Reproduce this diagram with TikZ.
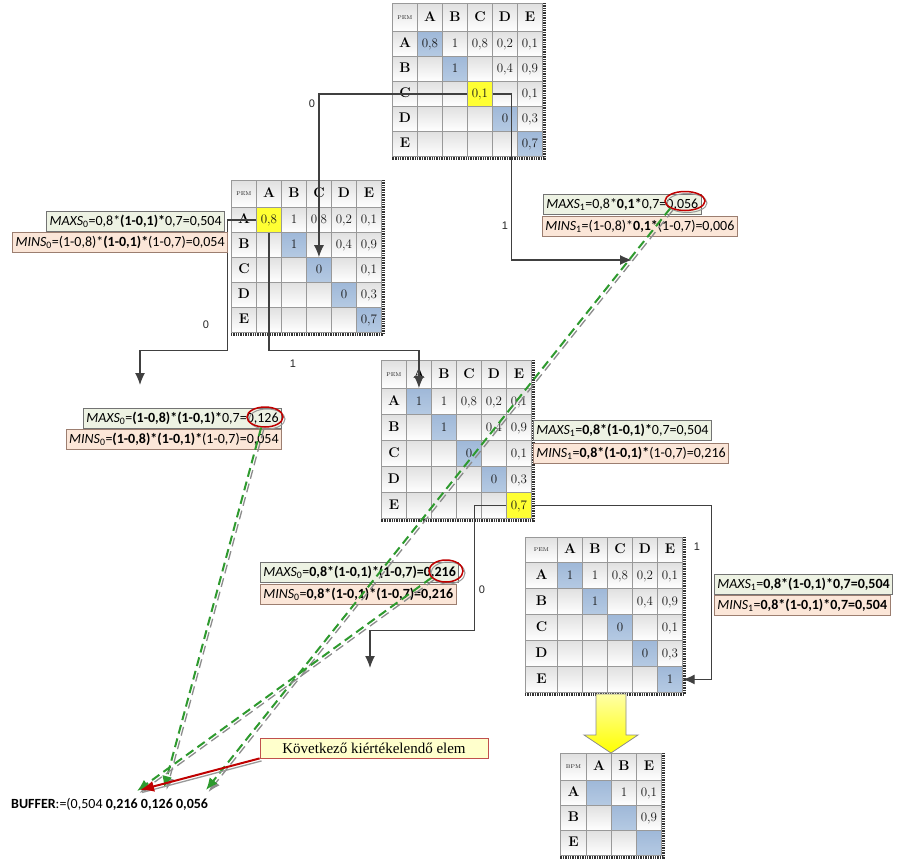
\documentclass[tikz,border=0pt]{standalone}
\usepackage{fontspec}
\newfontfamily\lblfont{Carlito}
\newfontfamily\edgefont{Liberation Sans}
\newfontfamily\notefont{Liberation Serif}
\usetikzlibrary{matrix,arrows.meta,shapes.geometric}

\definecolor{diagblue}{HTML}{B5CAE3}
\definecolor{diagbluetop}{HTML}{9FB8D8}
\definecolor{hiyellow}{HTML}{FFFF33}
\definecolor{maxfill}{HTML}{EDF2E3}
\definecolor{minfill}{HTML}{FBE6D8}
\definecolor{minedge}{HTML}{9C7E70}
\definecolor{connc}{HTML}{404040}
\definecolor{dashgreen}{HTML}{2E9A2E}
\definecolor{ringred}{HTML}{C00000}
\definecolor{notefill}{HTML}{FFFFCC}
\definecolor{noteedge}{HTML}{C0504D}

\newcommand\lblmax[1]{\textit{MAXS}\textsubscript{#1}}
\newcommand\lblmin[1]{\textit{MINS}\textsubscript{#1}}

\tikzset{
  cell/.style={draw=black!40, line width=0.5pt, inner sep=0pt, anchor=center,
    minimum width=25pt, minimum height=25pt, text height=8.5pt, text depth=1pt,
    top color=black!12, middle color=white, bottom color=white,
    font=\fontsize{13}{13}\selectfont, text=black!90},
  dg/.style={top color=diagbluetop, middle color=diagblue, bottom color=diagblue},
  hl/.style={top color=hiyellow, middle color=hiyellow, bottom color=hiyellow},
  hd/.style={font=\bfseries\fontsize{14}{14}\selectfont, text=black},
  pm/.style={font=\fontsize{5.5}{5.5}\selectfont, text height=4pt, text depth=0pt},
  pem/.style={matrix of nodes, nodes in empty cells, row sep=-0.5pt,
    column sep=-0.5pt, nodes={cell}, anchor=north west, inner sep=0pt},
  mshadow/.style={line width=2.6pt, draw=black!80, dash pattern=on 1pt off 0.7pt},
  conn/.style={draw=connc, line width=1.3pt, -{Latex[length=12pt,width=10pt]}},
  edgelbl/.style={font=\edgefont\fontsize{11}{11}\selectfont, text=black!85, inner sep=1pt},
  maxbox/.style={draw=black!55, line width=0.7pt, fill=maxfill,
    font=\lblfont\fontsize{14}{15}\selectfont, inner xsep=3pt, inner ysep=0pt,
    minimum height=20pt},
  minbox/.style={maxbox, draw=minedge, fill=minfill},
  ring/.style={ellipse, draw=ringred, line width=1.5pt, inner sep=0pt},
  ringshadow/.style={ellipse, draw=black!40, line width=1pt, inner sep=0pt},
  gshadow/.style={draw=black!45, line width=1.3pt, dash pattern=on 9pt off 5pt,
    -{Latex[length=12pt,width=9pt]}},
  gdash/.style={draw=dashgreen, line width=2pt, dash pattern=on 9pt off 5pt,
    -{Latex[length=12pt,width=10pt]}},
  redarrow/.style={draw=ringred, line width=2pt, -{Latex[length=14pt,width=11pt]}},
  redshadow/.style={draw=black!40, line width=1.3pt},
  notebox/.style={fill=notefill, draw=noteedge, line width=0.8pt,
    minimum width=228pt, minimum height=20pt, inner sep=0pt,
    font=\notefont\fontsize{15}{15}\selectfont},
  yarrow/.style={draw=black!45, line width=0.8pt, top color=yellow!35, bottom color=yellow}
}

\begin{document}
\begin{tikzpicture}[x=1pt,y=-1pt]
\fill[white] (0,0) rectangle (903,862);
\useasboundingbox (0,0) rectangle (903,862);

% ---- top table: C is chosen
\matrix[pem, row 1/.style={nodes={minimum height=28pt}}] (top) at (392,3) {
|[pm]|PEM & |[hd]|A & |[hd]|B & |[hd]|C & |[hd]|D & |[hd]|E \\
|[hd]|A & |[dg]|0,8 & 1 & 0,8 & 0,2 & 0,1 \\
|[hd]|B & & |[dg]|1 & & 0,4 & 0,9 \\
|[hd]|C & & & |[hl]|0,1 & & 0,1 \\
|[hd]|D & & & & |[dg]|0 & 0,3 \\
|[hd]|E & & & & & |[dg]|0,7 \\
};

% ---- branch C = 0: A is chosen
\matrix[pem, row 1/.style={nodes={minimum height=27pt}}] (lm) at (231,180) {
|[pm]|PEM & |[hd]|A & |[hd]|B & |[hd]|C & |[hd]|D & |[hd]|E \\
|[hd]|A & |[hl]|0,8 & 1 & 0,8 & 0,2 & 0,1 \\
|[hd]|B & & |[dg]|1 & & 0,4 & 0,9 \\
|[hd]|C & & & |[dg]|0 & & 0,1 \\
|[hd]|D & & & & |[dg]|0 & 0,3 \\
|[hd]|E & & & & & |[dg]|0,7 \\
};

% ---- branch A = 1: E is chosen
\matrix[pem, nodes={minimum height=26pt}, row 1/.style={nodes={minimum height=28pt}}] (mm) at (381,360) {
|[pm]|PEM & |[hd]|A & |[hd]|B & |[hd]|C & |[hd]|D & |[hd]|E \\
|[hd]|A & |[dg]|1 & 1 & 0,8 & 0,2 & 0,1 \\
|[hd]|B & & |[dg]|1 & & 0,4 & 0,9 \\
|[hd]|C & & & |[dg]|0 & & 0,1 \\
|[hd]|D & & & & |[dg]|0 & 0,3 \\
|[hd]|E & & & & & |[hl]|0,7 \\
};

% ---- branch E = 1
\matrix[pem, nodes={minimum height=26pt}, row 1/.style={nodes={minimum height=25pt}},
        column 1/.style={nodes={minimum width=32pt}}] (rm) at (525,537) {
|[pm]|PEM & |[hd]|A & |[hd]|B & |[hd]|C & |[hd]|D & |[hd]|E \\
|[hd]|A & |[dg]|1 & 1 & 0,8 & 0,2 & 0,1 \\
|[hd]|B & & |[dg]|1 & & 0,4 & 0,9 \\
|[hd]|C & & & |[dg]|0 & & 0,1 \\
|[hd]|D & & & & |[dg]|0 & 0,3 \\
|[hd]|E & & & & & |[dg]|1 \\
};

% ---- reduced table
\matrix[pem, row 1/.style={nodes={minimum height=27pt}},
        column 1/.style={nodes={minimum width=26pt}}] (bm) at (560,753) {
|[pm]|BPM & |[hd]|A & |[hd]|B & |[hd]|E \\
|[hd]|A & |[dg]| & 1 & 0,1 \\
|[hd]|B & & |[dg]| & 0,9 \\
|[hd]|E & & & |[dg]| \\
};

% table shadows
\foreach \m in {top,lm,mm,rm,bm}{
  \draw[mshadow] ([xshift=1.6pt]\m.north east) -- ([xshift=1.6pt,yshift=-1.6pt]\m.south east)
    -- ([yshift=-1.6pt]\m.south west);
}

% free ends of the branches
\coordinate (e2) at (632,260);
\coordinate (e3) at (140,385);
\coordinate (e5) at (370,668);

% branch connectors
\draw[conn] (top-4-4.west) -| (lm-4-4.north);
\draw[conn] (top-4-4.east) -- ++(19,0) |- (e2);
\draw[conn] (lm-2-2.west) -- ++(-29,0) -- ++(0,130.5) -| (e3);
\draw[conn] (lm-2-2.south) -- ++(0,118) -| (mm-2-2.north);
\draw[conn] (mm-6-6.west) -- ++(-32,0) -- ++(0,125) -| (e5);
\draw[conn] (mm-6-6.east) -- ++(180,0) |- (rm-6-6.east);

\node[edgelbl] (l1) at (312,104) {0};
\node[edgelbl] (l2) at (505,226) {1};
\node[edgelbl] (l3) at (206,325) {0};
\node[edgelbl] (l4) at (293,364) {1};
\node[edgelbl] (l5) at (482,590) {0};
\node[edgelbl] (l6) at (697,547) {1};

% bound labels
\node[maxbox, anchor=north east] (mx0a) at (225,211)
  {\lblmax{0}=0,8*\textbf{(1-0,1)*}0,7=0,504};
\node[minbox, anchor=north east] (mn0a) at (228,232)
  {\lblmin{0}=(1-0,8)*\textbf{(1-0,1)*}(1-0,7)=0,054};
\node[maxbox, anchor=north west] (mx1a) at (543,194)
  {\lblmax{1}=0,8*\textbf{0,1*}0,7=0,056};
\node[minbox, anchor=north west] (mn1a) at (542,216)
  {\lblmin{1}=(1-0,8)*\textbf{0,1*}(1-0,7)=0,006};
\node[maxbox, anchor=north east] (mx0b) at (282,408)
  {\lblmax{0}=\textbf{(1-0,8)*(1-0,1)*}0,7=0,126};
\node[minbox, anchor=north east] (mn0b) at (282,429)
  {\lblmin{0}=\textbf{(1-0,8)*(1-0,1)*}(1-0,7)=0,054};
\node[maxbox, anchor=north west] (mx1b) at (533,420)
  {\lblmax{1}=\textbf{0,8*(1-0,1)*}0,7=0,504};
\node[minbox, anchor=north west] (mn1b) at (533,443)
  {\lblmin{1}=\textbf{0,8*(1-0,1)*}(1-0,7)=0,216};
\node[maxbox, anchor=north west] (mx0c) at (260,562)
  {\lblmax{0}=\textbf{0,8*(1-0,1)*(1-0,7)=0,216}};
\node[minbox, anchor=north west] (mn0c) at (260,584)
  {\lblmin{0}=\textbf{0,8*(1-0,1)*(1-0,7)=0,216}};
\node[maxbox, anchor=north west] (mx1c) at (714,574)
  {\lblmax{1}=\textbf{0,8*(1-0,1)*0,7=0,504}};
\node[minbox, anchor=north west] (mn1c) at (714,595)
  {\lblmin{1}=\textbf{0,8*(1-0,1)*0,7=0,504}};

% rings around the values sent to the buffer
\node[ringshadow, minimum width=40pt, minimum height=19pt] at (687,203) {};
\node[ringshadow, minimum width=36pt, minimum height=20pt] at (267,419) {};
\node[ringshadow, minimum width=34pt, minimum height=22pt] at (448,573) {};
\node[ring, minimum width=40pt, minimum height=19pt] (c1) at (685,201) {};
\node[ring, minimum width=36pt, minimum height=20pt] (c2) at (265,417) {};
\node[ring, minimum width=34pt, minimum height=22pt] (c3) at (446,571) {};

% buffer
\node[font=\lblfont\fontsize{14}{14}\selectfont, anchor=west, inner sep=0pt] (buf) at (11,804)
  {\textbf{BUFFER}:=(0,504 \textbf{0,216 0,126 0,056}};
\coordinate (b1) at (137,791);
\coordinate (b2) at (164,788);
\coordinate (b3) at (206,790);
\coordinate (r1) at (140,790);

\foreach \s/\t in {c1.south west/b3, c2.250/b2, c3.205/b1}{
  \draw[gshadow] ([xshift=2.5pt,yshift=-2pt]\s) -- ([xshift=2.5pt,yshift=-2pt]\t);
  \draw[gdash] (\s) -- (\t);
}

% next element note
\node[notebox] (kv) at (374,748) {Következő kiértékelendő elem};
\draw[redshadow] ([xshift=2pt,yshift=-2.5pt]kv.south west) -- ([xshift=2pt,yshift=-2.5pt]r1);
\draw[redarrow] (kv.south west) -- (r1);

% reduction arrow
\draw[yarrow] (596,694) -- (626,694) -- (626,735) -- (638,735) -- (611,753)
  -- (584,735) -- (596,735) -- cycle;
\end{tikzpicture}
\end{document}
